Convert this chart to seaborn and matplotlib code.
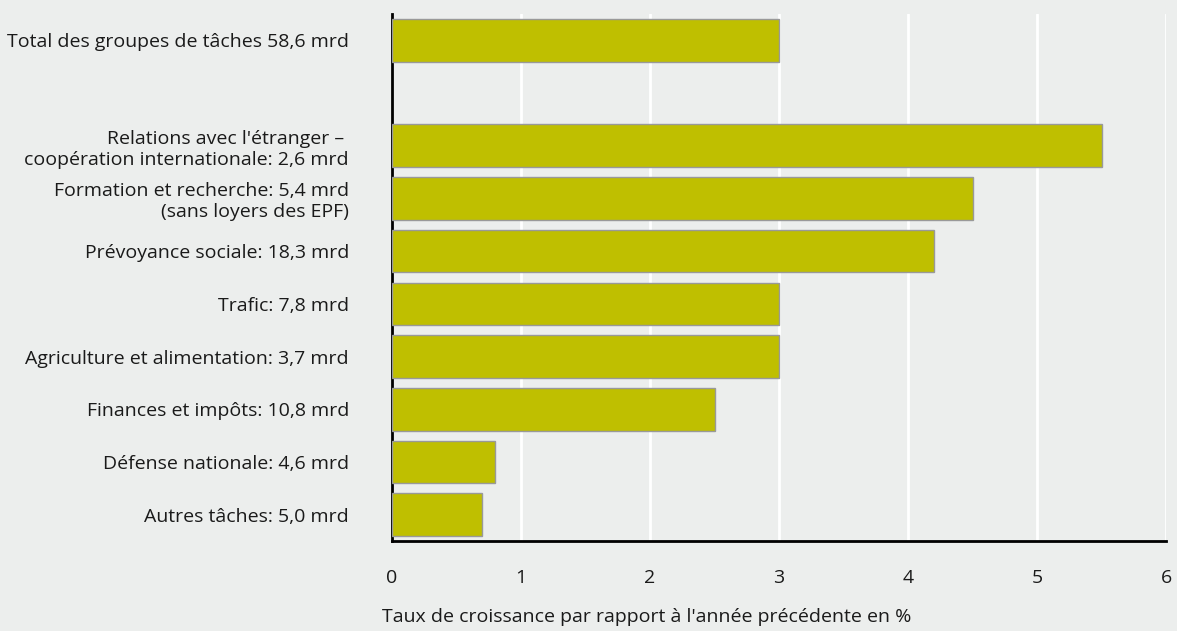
import matplotlib.pyplot as plt
import seaborn as sns
import pandas as pd
import numpy as np

# catégories et taux de croissance (%)
categories = [
    "Total des groupes de tâches 58,6 mrd",
    "Relations avec l'étranger – \ncoopération internationale: 2,6 mrd",
    "Formation et recherche: 5,4 mrd\n(sans loyers des EPF)",
    "Prévoyance sociale: 18,3 mrd",
    "Trafic: 7,8 mrd",
    "Agriculture et alimentation: 3,7 mrd",
    "Finances et impôts: 10,8 mrd",
    "Défense nationale: 4,6 mrd",
    "Autres tâches: 5,0 mrd",
]
growth = [3.0, 5.5, 4.5, 4.2, 3.0, 3.0, 2.5, 0.8, 0.7]
xticks = [0, 1, 2, 3, 4, 5, 6]
xlabel = "Taux de croissance par rapport à l'année précédente en %"

bg = "#ECEEED"
bar_color = "#BFBF00"
txt = "#1a1a1a"

sns.set_theme(style="white")
plt.rcParams['font.family'] = ['Open Sans', 'DejaVu Sans']

# le total est séparé du reste par une ligne vide
pos = np.array([0] + [2 + i for i in range(len(categories) - 1)], dtype=float)
df = pd.DataFrame({"cat": categories, "val": growth, "pos": pos})

fig = plt.figure(figsize=(11.77, 6.31), dpi=100, facecolor=bg)
ax = fig.add_axes([392 / 1177, 1 - 541 / 631, (1166 - 392) / 1177, (541 - 14) / 631])
ax.set_facecolor(bg)

sns.barplot(data=df, x="val", y="pos", orient="h", native_scale=True,
            color=bar_color, saturation=1, width=0.81,
            edgecolor="#999999", linewidth=1, ax=ax, zorder=3)

ax.set_xlim(0, 6)
ax.set_ylim(pos[-1] + 0.5, -0.5)
ax.set_xticks(xticks)
ax.set_xticklabels([str(t) for t in xticks], fontsize=14, color=txt)
ax.set_yticks(pos)
ax.set_yticklabels(categories, fontsize=14, color=txt, ha="right")
ax.tick_params(axis="y", length=0, pad=31)
ax.tick_params(axis="x", length=0, pad=20)
ax.set_xlabel(xlabel, fontsize=14, color=txt, ha="left")
ax.xaxis.set_label_coords(-0.013, -0.128)
ax.set_ylabel("")

ax.xaxis.grid(True, color="white", linewidth=2, zorder=0)
ax.set_axisbelow(True)
for s in ["top", "right"]:
    ax.spines[s].set_visible(False)
for s in ["left", "bottom"]:
    ax.spines[s].set_color("black")
    ax.spines[s].set_linewidth(2)

fig.savefig("out.png", dpi=100, facecolor=bg)
